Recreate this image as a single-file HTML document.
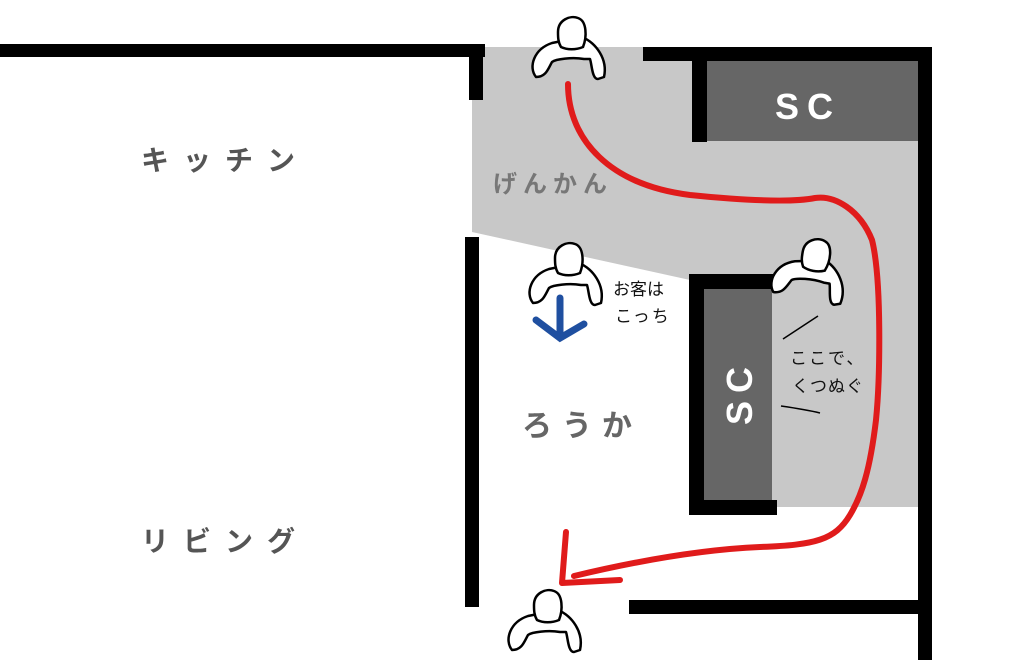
<!DOCTYPE html>
<html><head><meta charset="utf-8"><style>
html,body{margin:0;padding:0;background:#fff}
svg{display:block}
text{font-family:"Liberation Sans","Noto Sans CJK JP",sans-serif}
</style></head><body>
<svg width="1024" height="660" viewBox="0 0 1024 660" xmlns="http://www.w3.org/2000/svg">
<defs>
<g id="p">
<path d="M6,60 C-2,50 4,32 22,26 L32,24 L52,20 C66,26 78,42 74,60 L68,62 C62,62 62,48 60,42 L54,42 C42,40 26,42 22,45 C18,52 16,60 6,60 Z" fill="#fff" stroke="#000" stroke-width="2.5" stroke-linejoin="round"/>
<path d="M28,15 C28,3 40,-2 48,1 C57,4 57,20 53,30 C46,33 37,33 31,30 C28,25 28,20 28,15 Z" fill="#fff" stroke="#000" stroke-width="2.5"/>
</g>
</defs>
<polygon points="472,47 918,47 918,507 772,507 772,275 690,280 472,232" fill="#c8c8c8"/>
<rect x="0" y="44" width="485" height="13" fill="#000"/>
<rect x="469" y="44" width="14" height="56" fill="#000"/>
<rect x="643" y="47" width="289" height="14" fill="#000"/>
<rect x="918" y="47" width="14" height="613" fill="#000"/>
<rect x="692" y="61" width="15" height="81" fill="#000"/>
<rect x="707" y="61" width="211" height="80" fill="#666"/>
<text x="808" y="119" font-size="36" fill="#fff" text-anchor="middle" letter-spacing="8" font-weight="bold">SC</text>
<rect x="465" y="237" width="14" height="370" fill="#000"/>
<rect x="629" y="600" width="289" height="14" fill="#000"/>
<rect x="689" y="274" width="84" height="15" fill="#000"/>
<rect x="689" y="274" width="15" height="241" fill="#000"/>
<rect x="689" y="500" width="88" height="15" fill="#000"/>
<rect x="704" y="289" width="68" height="211" fill="#666"/>
<text transform="translate(752,392) rotate(-90)" font-size="36" fill="#fff" text-anchor="middle" letter-spacing="8" font-weight="bold">SC</text>
<text x="141" y="170" font-size="28" fill="#555" letter-spacing="14" font-weight="bold">キッチン</text>
<text x="141" y="551" font-size="28" fill="#555" letter-spacing="14" font-weight="bold">リビング</text>
<text x="493" y="192" font-size="24" fill="#777" letter-spacing="6" font-weight="bold">げんかん</text>
<text x="522" y="436" font-size="30" fill="#666" letter-spacing="10" font-weight="bold">ろうか</text>
<text x="613" y="295" font-size="17" fill="#111">お客は</text>
<text x="615" y="322" font-size="17" fill="#111" letter-spacing="2">こっち</text>
<text x="790" y="364" font-size="17" fill="#111" letter-spacing="2">ここで、</text>
<text x="792" y="392" font-size="17" fill="#111" letter-spacing="1">くつぬぐ</text>
<path d="M783,339 L818,316" stroke="#000" stroke-width="1.5"/>
<path d="M781,406 C795,408 808,410 820,413" stroke="#000" stroke-width="1.5" fill="none"/>
<g stroke="#1f4fa0" stroke-width="7" stroke-linecap="round" fill="none">
<path d="M560,298 L560,336"/>
<path d="M536,320 L560,338 L584,324"/>
</g>
<g stroke="#e01b1b" stroke-width="6" stroke-linecap="round" fill="none" stroke-linejoin="round">
<path d="M568,84 C568,140 610,185 690,195 C740,200 790,203 815,198 C835,195 860,210 872,240 C882,280 880,380 876,420 C870,470 862,495 850,515 C835,540 815,545 760,547 C690,550 620,565 574,576"/>
<path d="M566,532 L562,583 L620,580"/>
</g>
<use href="#p" transform="translate(530,17)"/>
<use href="#p" transform="translate(527,243)"/>
<use href="#p" transform="translate(772,238) rotate(10 38 30)"/>
<use href="#p" transform="translate(506,590)"/>
</svg>
</body></html>
